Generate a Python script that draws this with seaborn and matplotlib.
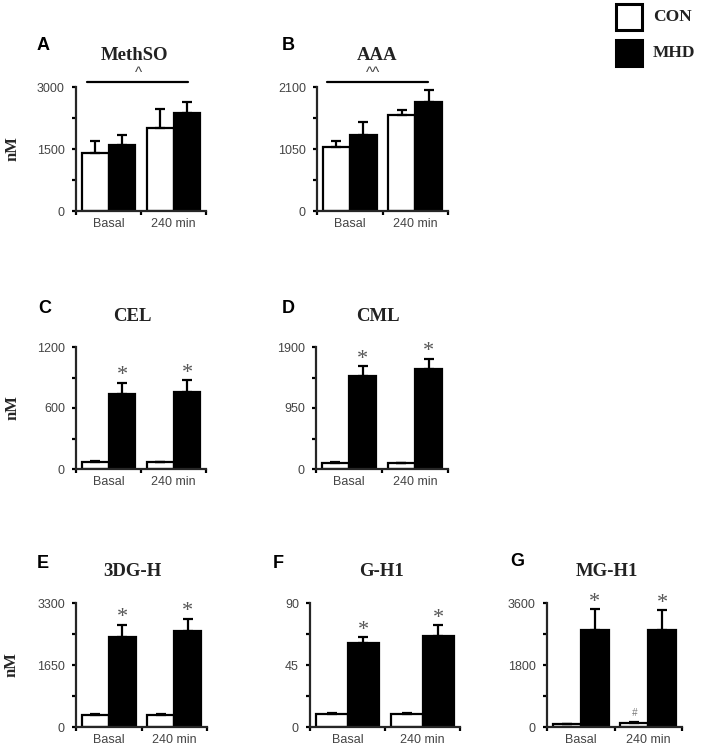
import numpy as np
import pandas as pd
import matplotlib
matplotlib.use("Agg")
import matplotlib.pyplot as plt
import seaborn as sns
from matplotlib.patches import Rectangle
from matplotlib.ticker import FixedLocator

# Data (nM)
times = ["Basal", "240 min"]
groups = ["CON", "MHD"]

methso_con = [1415, 2000]
methso_con_err = [270, 460]
methso_mhd = [1600, 2370]
methso_mhd_err = [235, 265]

aaa_con = [1090, 1625]
aaa_con_err = [100, 80]
aaa_mhd = [1285, 1840]
aaa_mhd_err = [225, 215]

cel_con = [68, 65]
cel_con_err = [8, 5]
cel_mhd = [735, 760]
cel_mhd_err = [115, 115]

cml_con = [100, 90]
cml_con_err = [15, 10]
cml_mhd = [1445, 1550]
cml_mhd_err = [155, 170]

dgh_con = [310, 310]
dgh_con_err = [40, 30]
dgh_mhd = [2390, 2560]
dgh_mhd_err = [330, 320]

gh1_con = [9.7, 9.5]
gh1_con_err = [0.5, 0.4]
gh1_mhd = [60.8, 66.4]
gh1_mhd_err = [4.4, 7.5]

mgh1_con = [90, 130]
mgh1_con_err = [10, 10]
mgh1_mhd = [2820, 2820]
mgh1_mhd_err = [600, 565]

y_max = {"MethSO": 3000, "AAA": 2100, "CEL": 1200, "CML": 1900,
         "3DG-H": 3300, "G-H1": 90, "MG-H1": 3600}

sns.set_style("ticks")
plt.rcParams["font.family"] = ["Liberation Sans", "DejaVu Sans"]

W, H = 701, 750
fig = plt.figure(figsize=(W / 100, H / 100), dpi=100)

GRAY = "#444444"
LW = 1.6


def px_rect(left, right, top, bottom):
    return [left / W, 1 - bottom / H, (right - left) / W, (bottom - top) / H]


def draw_panel(rect, letter, letter_xy, title, title_x, con, con_err, mhd, mhd_err,
               stars=False, ylabel=False):
    ax = fig.add_axes(rect)
    df = pd.DataFrame({"time": times * 2,
                       "group": ["CON"] * 2 + ["MHD"] * 2,
                       "value": list(con) + list(mhd)})
    sns.barplot(data=df, x="time", y="value", hue="group", order=times, hue_order=groups,
                palette={"CON": "white", "MHD": "black"}, edgecolor="black",
                linewidth=LW, width=0.83, errorbar=None, legend=False, ax=ax)
    for i, (cont, errs) in enumerate(zip(ax.containers, [con_err, mhd_err])):
        for bar, e in zip(cont, errs):
            xc = bar.get_x() + bar.get_width() / 2
            h = bar.get_height()
            ax.errorbar(xc, h, yerr=[[0], [e]], color="black", lw=LW,
                        capsize=3.5, capthick=LW, zorder=1)
            if stars and i == 1:
                ax.annotate("*", (xc, h + e), xytext=(0, 5), textcoords="offset points",
                            ha="center", va="center", fontsize=16, color="#555555",
                            family="Liberation Serif", annotation_clip=False)
    top = y_max[title]
    ax.set_ylim(0, top)
    ax.set_xlim(-0.5, 1.5)
    ax.yaxis.set_major_locator(FixedLocator([0, top / 2, top]))
    ax.yaxis.set_minor_locator(FixedLocator([top / 4, 3 * top / 4]))
    ax.set_yticklabels(["0", f"{top / 2:g}", f"{top:g}"])
    ax.xaxis.set_major_locator(FixedLocator([-0.5, 0.5, 1.5]))
    ax.xaxis.set_minor_locator(FixedLocator([0, 1]))
    ax.set_xticklabels([])
    ax.set_xticklabels(times, minor=True)
    ax.tick_params(axis="both", which="both", direction="out", width=LW, length=3,
                   colors="black", labelcolor=GRAY, labelsize=9)
    ax.tick_params(axis="x", which="minor", length=0, pad=5)
    ax.tick_params(axis="y", which="major", pad=5)
    for s in ["top", "right"]:
        ax.spines[s].set_visible(False)
    for s in ["left", "bottom"]:
        ax.spines[s].set_linewidth(LW)
    ax.set_xlabel("")
    if ylabel:
        ax.set_ylabel("nM", family="Liberation Serif", fontweight="bold", fontsize=12)
        ax.yaxis.set_label_coords(-0.43, 0.5)
    else:
        ax.set_ylabel("")
    ax.text(title_x, 1.25, title, transform=ax.transAxes, ha="center", va="center",
            family="Liberation Serif", fontweight="bold", fontsize=13.5, color="#222222")
    fig.text(letter_xy[0] / W, 1 - letter_xy[1] / H, letter, ha="center", va="center",
             fontweight="bold", fontsize=13, color="black")
    return ax


ax_a = draw_panel(px_rect(76, 206, 87, 211), "A", (43, 46), "MethSO", 0.45,
                  methso_con, methso_con_err, methso_mhd, methso_mhd_err, ylabel=True)
ax_b = draw_panel(px_rect(317, 448, 87, 211), "B", (288, 46), "AAA", 0.46,
                  aaa_con, aaa_con_err, aaa_mhd, aaa_mhd_err)
ax_c = draw_panel(px_rect(76, 206, 347, 469), "C", (45, 308), "CEL", 0.43,
                  cel_con, cel_con_err, cel_mhd, cel_mhd_err, stars=True, ylabel=True)
ax_d = draw_panel(px_rect(316, 448, 347, 469), "D", (288, 308), "CML", 0.47,
                  cml_con, cml_con_err, cml_mhd, cml_mhd_err, stars=True)
ax_e = draw_panel(px_rect(76, 207, 603, 727), "E", (43, 563), "3DG-H", 0.43,
                  dgh_con, dgh_con_err, dgh_mhd, dgh_mhd_err, stars=True, ylabel=True)
ax_f = draw_panel(px_rect(310, 460, 603, 727), "F", (278, 563), "G-H1", 0.48,
                  gh1_con, gh1_con_err, gh1_mhd, gh1_mhd_err, stars=True)
ax_g = draw_panel(px_rect(547, 682, 603, 727), "G", (517, 562), "MG-H1", 0.44,
                  mgh1_con, mgh1_con_err, mgh1_mhd, mgh1_mhd_err, stars=True)

# significance brackets over time effect
for ax, x0, x1, mark, mx in [(ax_a, 0.085, 0.86, "^", 0.48), (ax_b, 0.076, 0.847, "^^", 0.43)]:
    ax.plot([x0, x1], [1.04, 1.04], color="black", lw=LW, transform=ax.transAxes, clip_on=False)
    ax.text(mx, 1.055, mark, transform=ax.transAxes, ha="center", va="bottom",
            fontsize=11, color=GRAY)

# '#' over CON 240 min in G
bar = ax_g.containers[0][1]
ax_g.annotate("#", (bar.get_x() + bar.get_width() / 2, bar.get_height()), xytext=(0, 7),
              textcoords="offset points", ha="center", va="center", fontsize=7,
              color="#777777", style="italic")

# legend boxes
for label, face, top in [("CON", "white", 4), ("MHD", "black", 40)]:
    fig.add_artist(Rectangle((616 / W, 1 - (top + 26) / H), 26 / W, 26 / H,
                             facecolor=face, edgecolor="black", lw=2.2,
                             transform=fig.transFigure))
    fig.text(653 / W, 1 - (top + 13) / H, label, ha="left", va="center",
             family="Liberation Serif", fontweight="bold", fontsize=12.5, color="#222222")

fig.savefig("out.png", dpi=100)
